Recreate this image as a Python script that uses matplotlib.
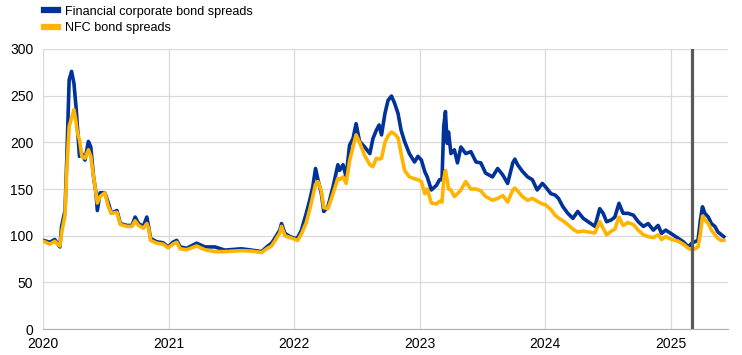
import pandas as pd
import matplotlib
matplotlib.use('Agg')
import matplotlib.pyplot as plt
import matplotlib.dates as mdates

plt.rcParams['font.family'] = ['Liberation Sans', 'DejaVu Sans']
plt.rcParams['font.size'] = 10

# 데이터 (차트에서 읽은 값, bp)
dates = [
    '2020-01-02', '2020-01-21', '2020-02-04', '2020-02-19', '2020-02-24', '2020-03-05',
    '2020-03-10', '2020-03-17', '2020-03-24', '2020-03-31', '2020-04-06', '2020-04-10',
    '2020-04-16', '2020-04-23', '2020-05-02', '2020-05-12', '2020-05-19', '2020-05-27',
    '2020-06-03', '2020-06-07', '2020-06-15', '2020-06-29', '2020-07-09', '2020-07-18',
    '2020-08-03', '2020-08-13', '2020-09-01', '2020-09-16', '2020-09-25', '2020-10-05',
    '2020-10-19', '2020-10-29', '2020-11-03', '2020-11-09', '2020-11-27', '2020-12-15',
    '2020-12-30', '2021-01-13', '2021-01-24', '2021-02-03', '2021-02-22', '2021-03-23',
    '2021-04-16', '2021-05-15', '2021-06-13', '2021-07-31', '2021-08-30', '2021-09-28',
    '2021-10-13', '2021-10-27', '2021-11-05', '2021-11-20', '2021-11-25', '2021-12-05',
    '2021-12-20', '2022-01-04', '2022-01-11', '2022-01-22', '2022-02-05', '2022-02-15',
    '2022-02-24', '2022-03-04', '2022-03-11', '2022-03-21', '2022-03-28', '2022-04-09',
    '2022-04-24', '2022-05-08', '2022-05-13', '2022-05-23', '2022-06-01', '2022-06-11',
    '2022-06-21', '2022-06-30', '2022-07-10', '2022-07-25', '2022-08-09', '2022-08-18',
    '2022-08-28', '2022-09-05', '2022-09-12', '2022-09-22', '2022-10-01', '2022-10-11',
    '2022-10-20', '2022-10-30', '2022-11-08', '2022-11-18', '2022-12-02', '2022-12-17',
    '2022-12-27', '2023-01-06', '2023-01-16', '2023-01-23', '2023-02-04', '2023-02-19',
    '2023-02-28', '2023-03-07', '2023-03-12', '2023-03-17', '2023-03-22', '2023-03-26',
    '2023-04-02', '2023-04-12', '2023-04-21', '2023-05-01', '2023-05-15', '2023-05-30',
    '2023-06-14', '2023-06-28', '2023-07-12', '2023-08-01', '2023-08-16', '2023-08-31',
    '2023-09-14', '2023-09-29', '2023-10-05', '2023-10-13', '2023-10-27', '2023-11-11',
    '2023-11-25', '2023-12-09', '2023-12-24', '2024-01-03', '2024-01-18', '2024-01-30',
    '2024-02-09', '2024-02-22', '2024-03-07', '2024-03-22', '2024-04-05', '2024-04-21',
    '2024-05-05', '2024-05-25', '2024-06-08', '2024-06-18', '2024-06-28', '2024-07-12',
    '2024-07-22', '2024-08-03', '2024-08-15', '2024-08-29', '2024-09-14', '2024-09-28',
    '2024-10-13', '2024-10-27', '2024-11-11', '2024-11-25', '2024-12-05', '2024-12-17',
    '2025-01-03', '2025-01-23', '2025-02-06', '2025-02-21', '2025-03-03', '2025-03-12',
    '2025-03-21', '2025-03-28', '2025-04-03', '2025-04-10', '2025-04-20', '2025-04-29',
    '2025-05-09', '2025-05-18', '2025-05-28', '2025-06-04',
]

financial = [
    95, 93, 96, 88, 110, 127,
    181, 267, 276, 263, 238, 217,
    185, 188, 181, 201, 195, 163,
    146, 127, 146, 146, 135, 124,
    127, 113, 111, 111, 120, 113,
    110, 120, 110, 97, 93.5, 92.5,
    88, 93, 95, 88, 86.5, 92,
    88, 88, 84.6, 86, 84.6, 83,
    88, 92, 97, 106, 113, 102.5,
    99, 97, 98, 106, 124, 138,
    152.5, 172, 160, 145, 126, 131,
    152.5, 176, 170, 176, 163, 197,
    204, 220, 201, 195, 188, 204,
    213, 218.6, 208, 231, 245, 249.6,
    242, 231, 213, 201, 188, 179,
    185, 181, 168.5, 163, 149, 154,
    160, 160, 217, 233, 199, 211,
    188, 192, 178, 195, 188, 190,
    179, 178, 167, 163, 172, 165,
    156, 178, 182, 176, 169, 163,
    160, 149, 156, 152, 145, 143.6,
    140, 131, 124, 118.6, 126, 118.6,
    115, 110, 129, 124, 115, 117,
    120, 134.7, 124, 124, 122, 115,
    110, 113, 106, 111, 102.5, 106,
    102, 97, 93.6, 88, 92, 93.6,
    95, 117, 131, 124, 120, 113,
    110, 104, 101, 99,
]

nfc = [
    94, 91, 94, 89, 103, 122,
    170, 217, 226, 235, 222, 210,
    203, 185, 183, 192, 185, 163,
    146, 135, 142, 146, 131, 124,
    125, 112, 110, 110, 116, 111,
    108, 113, 108, 95, 92, 91,
    87, 91, 93, 86, 85, 89,
    85, 83, 83, 84, 83.5, 82,
    86, 89, 94, 103, 110, 100,
    98, 96, 95, 102, 114, 128,
    142, 155, 158, 148, 130, 129,
    145, 161.5, 160, 163, 156, 180,
    195, 208, 200, 186, 176, 174,
    183, 182, 183, 200, 207, 211,
    209, 205, 188, 170, 163, 161,
    160, 158, 145, 150, 135, 134,
    137, 136, 160, 170, 160, 150,
    149, 142, 145, 149, 158, 150,
    150, 148, 142, 138, 140, 143,
    136, 149, 151, 148, 142, 138,
    140, 137, 134, 133, 128, 122,
    119, 116, 112, 107, 104, 105,
    104, 103, 115, 108, 101, 105,
    107, 120, 111, 114, 112, 106,
    101, 99, 98, 101, 96, 99,
    96, 94, 91, 86.5, 85, 86,
    88, 102.5, 121, 117, 113, 106,
    101, 97, 95, 95,
]

cutoff = '2025-03-03'

df = pd.DataFrame({'date': pd.to_datetime(dates), 'financial': financial, 'nfc': nfc})

fig = plt.figure(figsize=(7.42, 3.55), dpi=100)
ax = fig.add_axes([0.058, 0.073, 0.923, 0.789])

ax.plot(df['date'], df['financial'], color='#003299', linewidth=2.6, label='Financial corporate bond spreads')
ax.plot(df['date'], df['nfc'], color='#ffb400', linewidth=2.6, label='NFC bond spreads')
ax.axvline(pd.Timestamp(cutoff), color='#5a5a5a', linewidth=2.3)

ax.set_ylim(0, 300)
ax.set_yticks(range(0, 301, 50))
ax.set_xlim(pd.Timestamp('2020-01-01'), pd.Timestamp('2025-06-16'))
ax.xaxis.set_major_locator(mdates.YearLocator())
ax.xaxis.set_major_formatter(mdates.DateFormatter('%Y'))

ax.grid(True, color='#d9d9d9', linewidth=0.9)
ax.set_axisbelow(True)
for s in ['top', 'right', 'left']:
    ax.spines[s].set_visible(False)
ax.spines['bottom'].set_color('#b0b0b0')
ax.tick_params(length=0, labelsize=10, colors='#000000')
ax.tick_params(axis='y', pad=7)
ax.tick_params(axis='x', pad=6)

leg = fig.legend(loc='upper left', bbox_to_anchor=(0.059, 0.984), frameon=False,
                 borderpad=0, borderaxespad=0, handlelength=1.1, handletextpad=0.55,
                 labelspacing=0.35, fontsize=9.1)
for line in leg.get_lines():
    line.set_linewidth(4.5)

plt.savefig('out.png', dpi=100)
